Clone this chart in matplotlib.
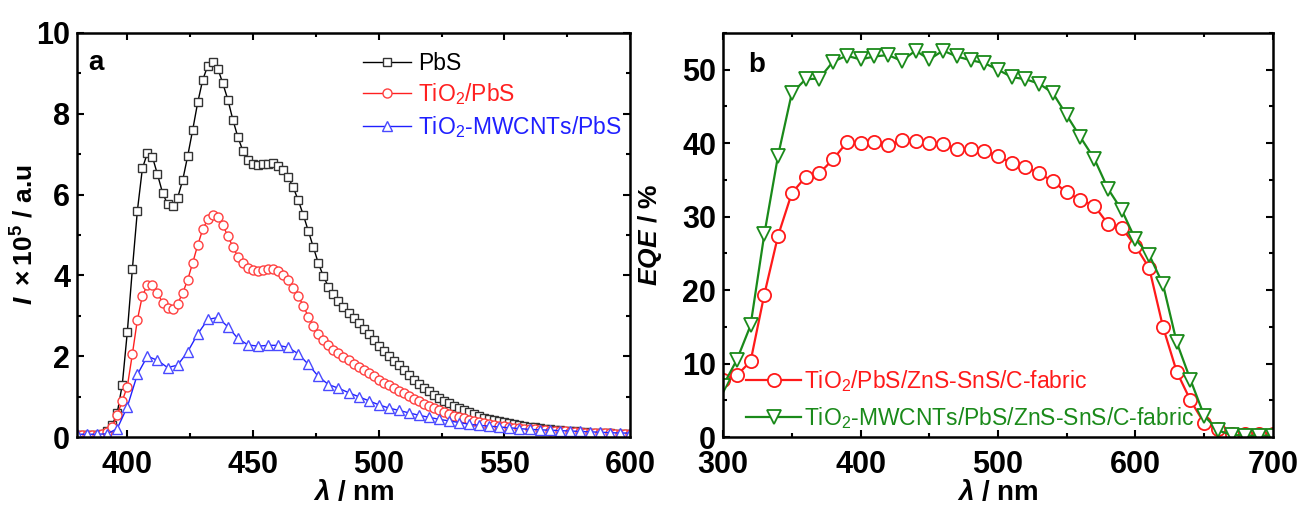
import matplotlib
matplotlib.use("Agg")
import matplotlib.pyplot as plt
from matplotlib.ticker import MultipleLocator

plt.rcParams['font.family'] = ['Liberation Sans', 'DejaVu Sans']
plt.rcParams['mathtext.fontset'] = 'custom'
plt.rcParams['mathtext.rm'] = 'Liberation Sans:bold'
plt.rcParams['mathtext.it'] = 'Liberation Sans:italic:bold'
plt.rcParams['mathtext.bf'] = 'Liberation Sans:bold'

# ---- panel a: PL spectra ----
wl_2nm = list(range(380, 601, 2))
wl_4nm = list(range(380, 601, 4))

pbs = [0.05, 0.05, 0.05, 0.05, 0.06, 0.08, 0.15, 0.3, 0.6, 1.3,
       2.6, 4.15, 5.6, 6.65, 7.03, 6.93, 6.5, 6.05, 5.76, 5.72,
       5.92, 6.35, 6.95, 7.6, 8.28, 8.84, 9.19, 9.29, 9.12, 8.75,
       8.35, 7.85, 7.42, 7.08, 6.85, 6.76, 6.73, 6.75, 6.77, 6.78,
       6.72, 6.6, 6.43, 6.18, 5.86, 5.5, 5.1, 4.7, 4.3, 3.98,
       3.72, 3.53, 3.37, 3.22, 3.08, 2.95, 2.82, 2.68, 2.54, 2.4,
       2.25, 2.12, 2.0, 1.89, 1.78, 1.65, 1.53, 1.42, 1.32, 1.22,
       1.13, 1.05, 0.97, 0.9, 0.84, 0.78, 0.72, 0.66, 0.61, 0.56,
       0.52, 0.48, 0.45, 0.42, 0.39, 0.37, 0.34, 0.32, 0.3, 0.28,
       0.26, 0.25, 0.23, 0.21, 0.19, 0.18, 0.17, 0.16, 0.15, 0.14,
       0.13, 0.12, 0.11, 0.11, 0.1, 0.09, 0.09, 0.08, 0.08, 0.07,
       0.07]

tio2_pbs = [0.05, 0.05, 0.05, 0.05, 0.06, 0.08, 0.12, 0.25, 0.55, 0.9,
            1.25, 2.05, 2.9, 3.5, 3.76, 3.76, 3.56, 3.33, 3.2, 3.16,
            3.3, 3.56, 3.89, 4.31, 4.75, 5.14, 5.39, 5.5, 5.44, 5.25,
            4.97, 4.71, 4.46, 4.3, 4.18, 4.13, 4.12, 4.13, 4.15, 4.17,
            4.1, 4.02, 3.88, 3.7, 3.49, 3.25, 2.98, 2.75, 2.56, 2.4,
            2.27, 2.16, 2.07, 1.98, 1.9, 1.82, 1.74, 1.66, 1.58, 1.5,
            1.42, 1.35, 1.28, 1.21, 1.15, 1.08, 1.01, 0.95, 0.89, 0.83,
            0.77, 0.72, 0.67, 0.62, 0.57, 0.53, 0.49, 0.46, 0.42, 0.39,
            0.37, 0.34, 0.32, 0.3, 0.28, 0.27, 0.25, 0.23, 0.22, 0.21,
            0.2, 0.19, 0.18, 0.17, 0.16, 0.15, 0.14, 0.14, 0.13, 0.12,
            0.12, 0.11, 0.11, 0.1, 0.1, 0.09, 0.09, 0.08, 0.08, 0.08,
            0.07]

tio2_mw_pbs = [0.07, 0.07, 0.07, 0.08, 0.21, 0.75, 1.55, 2.0, 1.9, 1.72,
               1.78, 2.11, 2.55, 2.91, 2.96, 2.73, 2.44, 2.28, 2.25, 2.27,
               2.27, 2.22, 2.06, 1.8, 1.5, 1.3, 1.21, 1.1, 1.0, 0.9,
               0.8, 0.72, 0.66, 0.6, 0.54, 0.49, 0.44, 0.4, 0.36, 0.32,
               0.29, 0.27, 0.25, 0.23, 0.21, 0.19, 0.18, 0.17, 0.16, 0.15,
               0.14, 0.13, 0.12, 0.11, 0.1, 0.1]

# ---- panel b: EQE ----
wl_eqe = list(range(300, 701, 10))
eqe_tio2 = [7.8, 8.4, 10.3, 19.4, 27.4, 33.2, 35.4, 35.9, 37.8, 40.1,
            40.0, 40.2, 39.7, 40.4, 40.3, 40.0, 39.9, 39.2, 39.2, 39.0,
            38.2, 37.3, 36.8, 35.9, 34.8, 33.3, 32.3, 31.5, 29.0, 28.5,
            26.0, 23.0, 15.0, 8.9, 5.0, 1.9, 1.1, 0.45, 0.45, 0.45,
            0.45]
eqe_tio2_mw = [7.0, 10.5, 15.2, 27.6, 38.3, 46.8, 48.7, 48.8, 51.1, 51.9,
               51.4, 51.8, 52.0, 51.2, 52.6, 51.4, 52.6, 51.8, 51.3, 50.9,
               50.0, 49.0, 48.7, 48.1, 46.8, 43.8, 40.8, 37.9, 33.8, 30.9,
               26.9, 24.8, 20.8, 12.9, 7.8, 2.9, 0.9, 0.3, 0.2, 0.2,
               0.2]

fig = plt.figure(figsize=(13.08, 5.13), dpi=100)
ax1 = fig.add_axes([0.0589, 0.148, 0.4228, 0.7877])
ax2 = fig.add_axes([0.5528, 0.148, 0.4204, 0.7877])

tick_fs = 22
for ax in (ax1, ax2):
    for sp in ax.spines.values():
        sp.set_linewidth(1.8)
    ax.tick_params(which='both', direction='in', top=True, right=True,
                   width=1.5, labelsize=tick_fs)
    ax.tick_params(which='major', length=5)
    ax.tick_params(which='minor', length=3)
    ax.tick_params(axis='x', pad=9.5)
    ax.tick_params(axis='y', pad=5)

# panel a
ax1.plot(wl_2nm, pbs, color='black', lw=1, marker='s', ms=5.5,
         mfc='white', mec='#333333', mew=1, label='PbS')
ax1.plot(wl_2nm, tio2_pbs, color='#ff2020', lw=1, marker='o', ms=6.5,
         mfc='white', mec='#ff4040', mew=1, label=r'TiO$_\mathregular{2}$/PbS')
ax1.plot(wl_4nm, tio2_mw_pbs, color='#2020ff', lw=1, marker='^', ms=7.5,
         mfc='white', mec='#4a4aff', mew=1,
         label=r'TiO$_\mathregular{2}$-MWCNTs/PbS')
ax1.set_xlim(380, 600)
ax1.set_ylim(0, 10)
ax1.xaxis.set_major_locator(MultipleLocator(50))
ax1.xaxis.set_minor_locator(MultipleLocator(25))
ax1.yaxis.set_major_locator(MultipleLocator(2))
ax1.yaxis.set_minor_locator(MultipleLocator(1))
for lab in ax1.get_xticklabels() + ax1.get_yticklabels():
    lab.set_fontweight('bold')
ax1.set_xlabel(r'$\lambda$ / nm', fontsize=20, fontweight='bold', labelpad=0)
ax1.set_ylabel(r'$I\ \times 10^5$ / a.u', fontsize=19, fontweight='bold')
ax1.yaxis.set_label_coords(-0.07, 0.5)
ax1.text(0.02, 0.925, 'a', transform=ax1.transAxes, fontsize=20,
         fontweight='bold', va='center')
leg1 = ax1.legend(loc='upper left', bbox_to_anchor=(0.48, 1.005), frameon=False,
                  fontsize=16.5, numpoints=1, handlelength=2.1,
                  handletextpad=0.3, labelspacing=0.3)
for txt, c in zip(leg1.get_texts(), ['black', '#ff2020', '#2020ff']):
    txt.set_color(c)

# panel b
ax2.plot(wl_eqe, eqe_tio2, color='#ff1a1a', lw=1.6, marker='o', ms=9.5,
         mfc='white', mec='#ff1a1a', mew=1.3,
         label=r'TiO$_\mathregular{2}$/PbS/ZnS-SnS/C-fabric')
ax2.plot(wl_eqe, eqe_tio2_mw, color='#1a8a1a', lw=1.6, marker='v', ms=10.5,
         mfc='white', mec='#1a8a1a', mew=1.3,
         label=r'TiO$_\mathregular{2}$-MWCNTs/PbS/ZnS-SnS/C-fabric')
ax2.set_xlim(300, 700)
ax2.set_ylim(0, 55)
ax2.xaxis.set_major_locator(MultipleLocator(100))
ax2.xaxis.set_minor_locator(MultipleLocator(50))
ax2.yaxis.set_major_locator(MultipleLocator(10))
ax2.yaxis.set_minor_locator(MultipleLocator(5))
for lab in ax2.get_xticklabels() + ax2.get_yticklabels():
    lab.set_fontweight('bold')
ax2.set_xlabel(r'$\lambda$ / nm', fontsize=20, fontweight='bold', labelpad=0)
ax2.set_ylabel(r'$EQE$ / %', fontsize=19, fontweight='bold')
ax2.yaxis.set_label_coords(-0.107, 0.5)
ax2.text(0.045, 0.92, 'b', transform=ax2.transAxes, fontsize=20,
         fontweight='bold', va='center')
leg2 = ax2.legend(loc='lower left', bbox_to_anchor=(0.005, -0.035), frameon=False,
                  fontsize=16.5, numpoints=1, handlelength=2.4,
                  handletextpad=0.1, labelspacing=0.45)
for txt, c in zip(leg2.get_texts(), ['#ff1a1a', '#1a8a1a']):
    txt.set_color(c)

fig.savefig('out.png', dpi=100)
